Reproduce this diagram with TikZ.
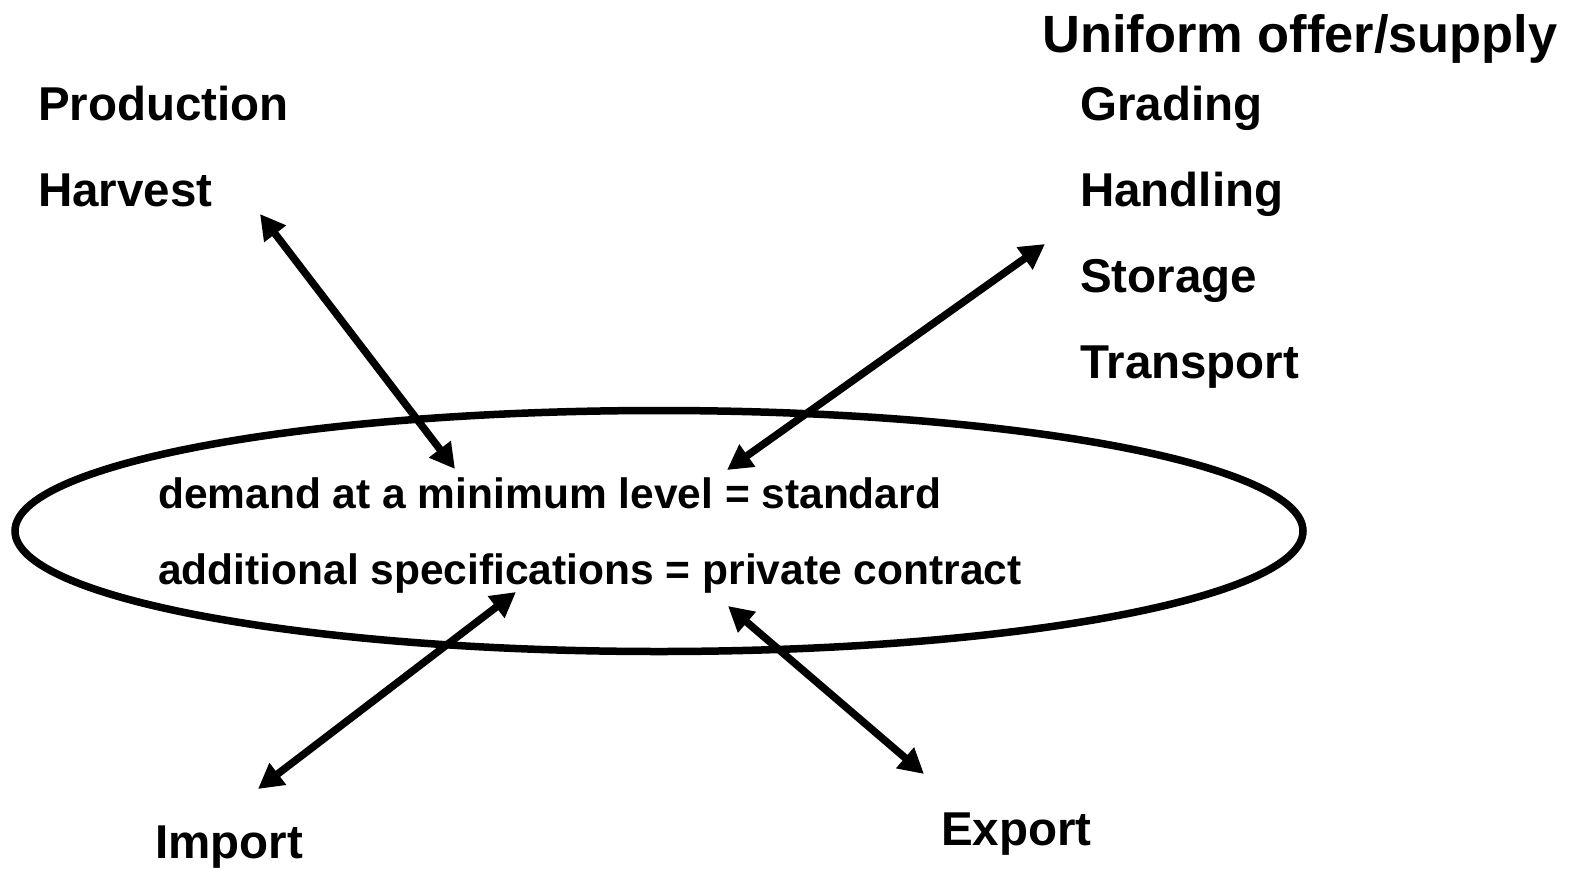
\documentclass[tikz,border=0pt]{standalone}
\usepackage{fontspec}
\setmainfont{Liberation Sans}
\usetikzlibrary{arrows.meta,shapes.geometric}
\tikzset{
  lbl/.style={anchor=base west, inner sep=0pt, font=\bfseries\fontsize{47.5}{50}\selectfont},
  biglbl/.style={anchor=base west, inner sep=0pt, font=\bfseries\fontsize{52.4}{56}\selectfont},
  inlbl/.style={anchor=base west, inner sep=0pt, font=\bfseries\fontsize{42.5}{46}\selectfont},
  oval/.style={ellipse, draw, line width=7.5pt, minimum width=1288pt, minimum height=241pt, inner sep=0pt},
  dbl/.style={line width=7.5pt, {Triangle[length=25pt,width=26pt]}-{Triangle[length=25pt,width=26pt]}}
}
\begin{document}
\begin{tikzpicture}[x=1pt,y=-1pt]
\useasboundingbox (0,0) rectangle (1569,868);
\node[oval] (ov) at (659,531) {};
\node[biglbl] (uo) at (1042,52) {Uniform offer/supply};
\node[lbl] (prod) at (38,120) {Production};
\node[lbl] (harv) at (38,206) {Harvest};
\node[lbl] (grad) at (1080,120) {Grading};
\node[lbl] (hand) at (1080,206) {Handling};
\node[lbl] (stor) at (1080,292) {Storage};
\node[lbl] (tran) at (1080,378) {Transport};
\node[inlbl] (dem) at (158,508) {demand at a minimum level = standard};
\node[inlbl] (add) at (158,584) {additional specifications = private contract};
\node[lbl] (imp) at (155,858) {Import};
\node[lbl] (exp) at (941,845) {Export};
\coordinate (h1) at (260,214);
\coordinate (h2) at (455,469);
\coordinate (s1) at (1045,244);
\coordinate (s2) at (727,470);
\coordinate (i1) at (516,592);
\coordinate (i2) at (258,789);
\coordinate (e1) at (728,606);
\coordinate (e2) at (924,774);
\draw[dbl] (h1) -- (h2);
\draw[dbl] (s1) -- (s2);
\draw[dbl] (i1) -- (i2);
\draw[dbl] (e1) -- (e2);
\end{tikzpicture}
\end{document}
